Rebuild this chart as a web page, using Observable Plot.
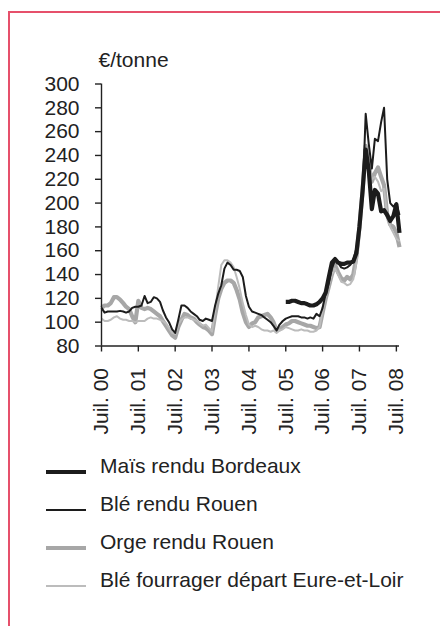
<!DOCTYPE html>
<html>
<head>
<meta charset="utf-8">
<script src="https://cdn.jsdelivr.net/npm/d3@7"></script>
<script src="https://cdn.jsdelivr.net/npm/@observablehq/plot@0.6"></script>
<style>
  body { margin: 0; background: #fff; font-family: "Liberation Sans", Arial, sans-serif; }
  #page { position: relative; width: 440px; height: 626px; overflow: hidden; background: #fff; }
  #frame { position: absolute; left: 8px; top: 11px; width: 460px; height: 640px;
           border-top: 2px solid #e6506b; border-left: 2px solid #e6506b; }
  #chart { position: absolute; left: 0; top: 0; }
  .lg-text { position: absolute; left: 100px; height: 38px; line-height: 38px; font-size: 21px;
             color: #222; white-space: nowrap; }
  .lg-sw { position: absolute; left: 46px; width: 40px; }
</style>
</head>
<body>
<div id="page">
  <div id="frame"></div>
  <div id="chart"></div>
</div>
<script>
// Monthly series, July 2000 → August 2008 (98 months)
const startMonth = "2000-07";
const unitLabel = "€/tonne";
const yTicks = [80, 100, 120, 140, 160, 180, 200, 220, 240, 260, 280, 300];
const xTickYears = [2000, 2001, 2002, 2003, 2004, 2005, 2006, 2007, 2008];
const xTickPrefix = "Juil. ";

const seriesNames = ["Maïs rendu Bordeaux", "Blé rendu Rouen", "Orge rendu Rouen", "Blé fourrager départ Eure-et-Loir"];

const mais = [
  null,null,null,null,null,null,null,null,null,null,
  null,null,null,null,null,null,null,null,null,null,
  null,null,null,null,null,null,null,null,null,null,
  null,null,null,null,null,null,null,null,null,null,
  null,null,null,null,null,null,null,null,null,null,
  null,null,null,null,null,null,null,null,null,null,
  117,117,118,118,117,116,116,115,114,114,
  115,117,120,125,138,150,153,150,149,149,
  150,150,151,158,180,210,245,228,195,211,
  208,193,194,190,185,189,199,175
];
const bleRouen = [
  112,108,109,109,109,109,109.5,109,108,109,
  112,113,113,114,122,116,117,121,120,117,
  110,104,100,94,91,102,114,114,112,109,
  107,105,102,101,103,102,101,114,124,131,
  145,150,148,144,144,143,138,122,113,109,
  108,107,106,104,102,100,97,93,98,101,
  103,104,105,105,105,104,104,103,104,103,
  107,105,112,124,133,145,152,150,146,145,
  146,148,152,162,178,205,275,250,229,254,
  252,268,280,220,200,197,200,190
];
const orge = [
  112,114,114,116,121,121,119,116,113,111,
  105,100,118,112,111,112,111,109,107,105,
  101,97,93,89,87,96,102,107,106,104,
  103,100,98,96,95,93,90,106,120,128,
  133,135,135,133,127,119,108,100,96,99,
  100,104,105,106,107,104,100,93,94,96,
  98,99,101,101,100,99,98,97,97,96,
  95,96,108,120,130,140,148,142,137,135,
  138,136,140,155,180,210,248,232,218,225,
  230,222,215,190,182,180,175,163
];
const bleFourrager = [
  103,101,101,102,104,105,103,102,102,101,
  101,100,101,101,101,103,104,103,103,102,
  101,99,95,91,90,98,102,104,104,103,
  102,101,99,97,98,95,92,110,130,148,
  152,152,150,146,138,128,116,106,98,96,
  97,96,94,93,93,92,93,91,93,94,
  96,95,94,93,93,94,93,93,92,92,
  93,96,110,122,132,140,145,140,134,133,
  131,132,136,150,175,205,240,235,220,222,
  218,210,212,190,180,175,170,168
];

const seriesValues = [mais, bleRouen, orge, bleFourrager];
const styles = [
  {stroke: "#1c1c1c", strokeWidth: 4.2},
  {stroke: "#1c1c1c", strokeWidth: 2},
  {stroke: "#a7a7a7", strokeWidth: 4.2},
  {stroke: "#bcbcbc", strokeWidth: 2}
];

const t0 = d3.utcParse("%Y-%m")(startMonth);
const rows = seriesValues.map((vals, s) =>
  vals.map((v, i) => ({date: d3.utcMonth.offset(t0, i), value: v, series: seriesNames[s]})));

const xTicks = xTickYears.map(y => new Date(Date.UTC(y, 6, 1)));
const xEnd = d3.utcMonth.offset(t0, mais.length - 1);

const drawOrder = [2, 3, 1, 0];

const plot = Plot.plot({
  width: 440,
  height: 445,
  marginLeft: 101,
  marginRight: 41,
  marginTop: 83.5,
  marginBottom: 99.5,
  style: {fontFamily: "'Liberation Sans', Arial, sans-serif", fontSize: "21px", color: "#222", background: "transparent", overflow: "visible"},
  x: {type: "utc", domain: [t0, xEnd]},
  y: {domain: [80, 300]},
  marks: [
    Plot.axisY({ticks: yTicks, tickSize: 6, tickPadding: 16, fontSize: 21, label: null, strokeWidth: 1.4, stroke: "#222"}),
    Plot.axisX({ticks: xTicks, tickFormat: d => xTickPrefix + String(d.getUTCFullYear()).slice(2), tickRotate: -90,
                tickSize: 6, tickPadding: 16, fontSize: 21, label: null, strokeWidth: 1.4, stroke: "#222"}),
    ...drawOrder.map(s => Plot.line(rows[s], {x: "date", y: "value", ...styles[s], strokeLinejoin: "round", strokeLinecap: "butt"})),
    Plot.ruleX([t0], {stroke: "#222", strokeWidth: 1.4}),
    Plot.ruleY([80], {stroke: "#222", strokeWidth: 1.4}),
    Plot.text([unitLabel], {frameAnchor: "top-left", textAnchor: "start", lineAnchor: "bottom", dx: -3, dy: -17, fontSize: 21, fill: "#222"})
  ]
});
document.getElementById("chart").appendChild(plot);

// Legend below the chart
const page = document.getElementById("page");
seriesNames.forEach((name, i) => {
  const top = 447 + 38 * i;
  const t = document.createElement("div");
  t.className = "lg-text";
  t.style.top = top + "px";
  t.textContent = name;
  page.appendChild(t);
  const sw = document.createElement("div");
  sw.className = "lg-sw";
  const h = styles[i].strokeWidth;
  sw.style.height = h + "px";
  sw.style.top = (top + 24.7 - h / 2) + "px";
  sw.style.background = styles[i].stroke;
  page.appendChild(sw);
});
</script>
</body>
</html>
